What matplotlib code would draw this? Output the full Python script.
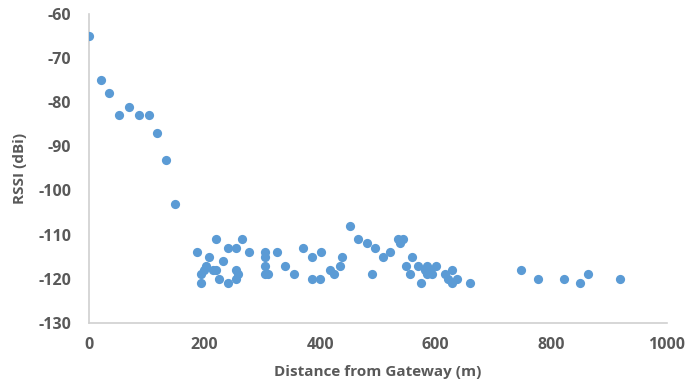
import matplotlib
matplotlib.use("Agg")
import matplotlib.pyplot as plt

distance = [0, 20, 35, 52, 69, 87, 103, 118, 133, 149,
            187, 219, 264, 241, 254, 277, 304, 325, 208, 304, 231, 304, 339, 202, 198,
            194, 215, 219, 255, 258, 255, 304, 310, 225, 194, 241,
            370, 385, 401, 354, 385, 400, 437, 434, 417, 424, 466, 481, 494, 489, 452,
            535, 543, 538, 520, 508, 559, 548, 570, 555, 584, 601, 582, 590, 594, 584,
            575, 616, 628, 622, 636, 628, 660,
            747, 777, 822, 849, 863, 919]
rssi = [-65, -75, -78, -83, -81, -83, -83, -87, -93, -103,
        -114, -111, -111, -113, -113, -114, -114, -114, -115, -115, -116, -117, -117, -117, -118,
        -119, -118, -118, -118, -119, -120, -119, -119, -120, -121, -121,
        -113, -115, -114, -119, -120, -120, -115, -117, -118, -119, -111, -112, -113, -119, -108,
        -111, -111, -112, -114, -115, -115, -117, -117, -119, -117, -117, -118, -118, -119, -119,
        -121, -119, -118, -120, -120, -121, -121,
        -118, -120, -120, -121, -119, -120]

xticks = [0, 200, 400, 600, 800, 1000]
yticks = [-130, -120, -110, -100, -90, -80, -70, -60]

plt.rcParams['font.family'] = ['Open Sans', 'DejaVu Sans']
plt.rcParams['axes.unicode_minus'] = False
fig = plt.figure(figsize=(6.91, 3.89), dpi=100)
ax = fig.add_axes([0.129, 0.170, 0.836, 0.794])
ax.scatter(distance, rssi, s=44, color='#5B9BD5', zorder=3, linewidths=0)
ax.set_xlim(0, 1000)
ax.set_ylim(-130, -60)
ax.set_xticks(xticks)
ax.set_yticks(yticks)
for s in ['top', 'right']:
    ax.spines[s].set_visible(False)
ax.spines['left'].set_color('#D0D0D0')
ax.spines['bottom'].set_color('#D0D0D0')
ax.spines['left'].set_linewidth(1.2)
ax.spines['bottom'].set_linewidth(1.2)
ax.tick_params(axis='y', length=0, colors='#595959', labelsize=11.5, pad=13)
ax.tick_params(axis='x', length=0, colors='#595959', labelsize=11.5, pad=10)
for lab in ax.get_xticklabels() + ax.get_yticklabels():
    lab.set_fontweight('bold')
ax.set_xlabel('Distance from Gateway (m)', fontsize=11, fontweight='bold', color='#595959', labelpad=9)
ax.set_ylabel('RSSI (dBi)', fontsize=11, fontweight='bold', color='#595959', labelpad=8)
fig.savefig('out.png', dpi=100)
